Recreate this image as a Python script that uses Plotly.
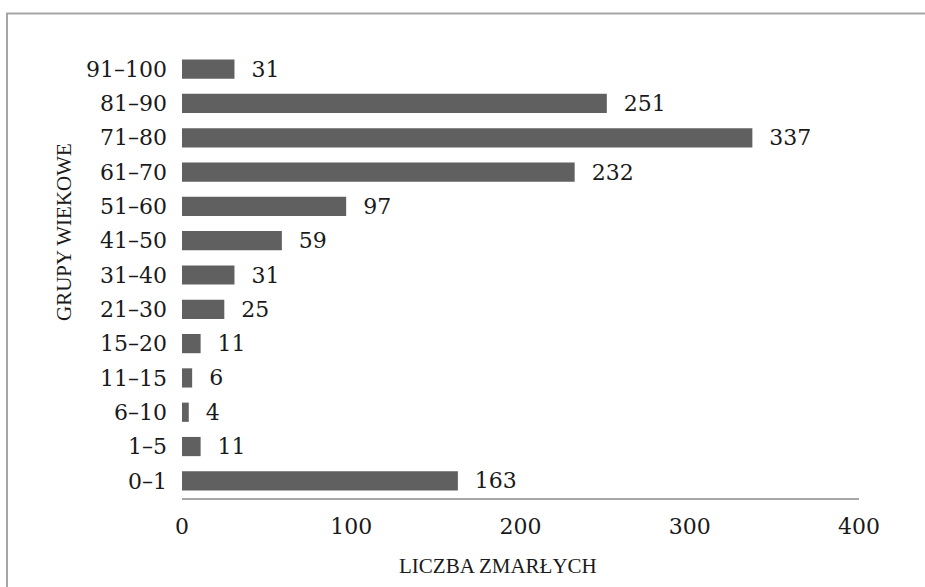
import plotly.graph_objects as go

categories = ["0–1", "1–5", "6–10", "11–15", "15–20", "21–30", "31–40",
              "41–50", "51–60", "61–70", "71–80", "81–90", "91–100"]
values = [163, 11, 4, 6, 11, 25, 31, 59, 97, 232, 337, 251, 31]
x_ticks = [0, 100, 200, 300, 400]

L, R, T, B = 182, 66, 52, 89
W, H = 925, 587
pw, ph = W - L - R, H - T - B

TICK_FONT = dict(family="DejaVu Serif", size=22, color="#1a1a1a")
TITLE_FONT = dict(family="Liberation Serif", size=21, color="#1a1a1a")

fig = go.Figure(go.Bar(
    y=categories, x=values, orientation="h",
    marker=dict(color="#606060", line=dict(width=0)),
    width=0.56,
    text=values, texttemplate="  %{x}", textposition="outside",
    textfont=TICK_FONT, constraintext="none",
    cliponaxis=False,
))

fig.update_layout(
    width=W, height=H,
    margin=dict(l=L, r=R, t=T, b=B),
    paper_bgcolor="white", plot_bgcolor="white",
    showlegend=False,
    xaxis=dict(range=[0, 400], tickvals=x_ticks, showgrid=False, zeroline=False,
               showline=True, linecolor="#a6a6a6", linewidth=2,
               ticks="", ticklabelstandoff=8,
               tickfont=TICK_FONT),
    yaxis=dict(categoryorder="array", categoryarray=categories,
               range=[-0.5, 12.5], showgrid=False, zeroline=False, showline=False,
               ticks="", ticklabelstandoff=14,
               tickfont=TICK_FONT),
    annotations=[
        dict(text="LICZBA ZMARŁYCH", xref="paper", yref="paper",
             x=(497.5 - L) / pw, y=-(566 - (H - B)) / ph, showarrow=False,
             xanchor="center", yanchor="middle", font=TITLE_FONT),
        dict(text="GRUPY WIEKOWE", xref="paper", yref="paper", textangle=-90,
             x=(63.5 - L) / pw, y=((H - B) - 232.5) / ph, showarrow=False,
             xanchor="center", yanchor="middle", font=TITLE_FONT),
    ],
    shapes=[
        dict(type="rect", xref="paper", yref="paper",
             x0=(7 - L) / pw, x1=2, y0=-1, y1=((H - B) - 13.5) / ph,
             line=dict(color="#a6a6a6", width=2), layer="below"),
    ],
)

fig.write_html("out.html", config={"displayModeBar": False},
               post_script="document.body.style.margin='0';document.body.style.padding='0';")
